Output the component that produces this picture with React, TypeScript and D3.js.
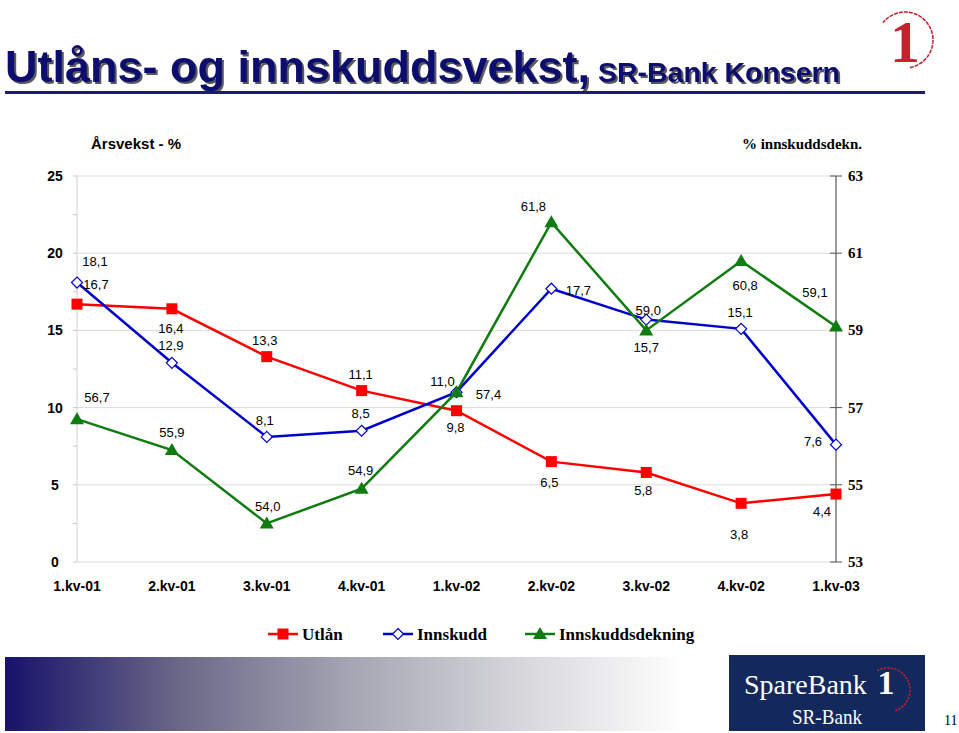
import React, { useEffect, useRef } from 'react';
import * as d3 from 'd3';

const categories = ['1.kv-01', '2.kv-01', '3.kv-01', '4.kv-01', '1.kv-02', '2.kv-02', '3.kv-02', '4.kv-02', '1.kv-03'];
const utlan = [16.7, 16.4, 13.3, 11.1, 9.8, 6.5, 5.8, 3.8, 4.4];
const innskudd = [18.1, 12.9, 8.1, 8.5, 11.0, 17.7, 15.7, 15.1, 7.6];
const dekning = [56.7, 55.9, 54.0, 54.9, 57.4, 61.8, 59.0, 60.8, 59.1];
const leftTicks = [0, 5, 10, 15, 20, 25];
const rightTicks = [53, 55, 57, 59, 61, 63];

// label offsets (dx, dy) from each point, tuned by eye
const utlanOff = [[19, -20], [-1, 19], [-2, -17], [-1, -17], [-1, 16], [-2, 20], [-3, 18], [-2, 31], [-14, 17]];
const innskuddOff = [[18, -22], [-1, -18], [-2, -17], [-1, -18], [-14, -11], [27, 1], [0, 27], [-1, -17], [-23, -4]];
const dekningOff = [[20, -22], [0, -18], [1, -17], [-1, -19], [32, 2], [-18, -16], [2, -20], [4, 24], [-21, -35]];

const fmt = (v: number) => v.toFixed(1).replace('.', ',');

export default function App() {
  const svgRef = useRef<SVGSVGElement>(null);

  useEffect(() => {
    document.body.style.margin = '0';
    if (!svgRef.current) return;
    const svg = d3.select(svgRef.current);
    svg.selectAll('*').remove();

    const left = 77, right = 836, top = 176, bottom = 562;

    const x = d3.scalePoint<string>().domain(categories).range([left, right]);
    const yL = d3.scaleLinear().domain([0, 25]).range([bottom, top]);
    const yR = d3.scaleLinear().domain([53, 63]).range([bottom, top]);

    const defs = svg.append('defs');
    const grad = defs.append('linearGradient').attr('id', 'fade').attr('x1', 0).attr('x2', 1).attr('y1', 0).attr('y2', 0);
    [[0, '#18126a'], [0.25, '#6c6a88'], [0.5, '#a9a9b6'], [0.75, '#dcdce0'], [0.95, '#ffffff']].forEach(([o, c]) => {
      grad.append('stop').attr('offset', o as number).attr('stop-color', c as string);
    });
    defs.append('filter').attr('id', 'shadow').attr('x', '-5%').attr('y', '-20%').attr('width', '110%').attr('height', '140%')
      .append('feDropShadow').attr('dx', 2).attr('dy', 2).attr('stdDeviation', 0.6)
      .attr('flood-color', '#333').attr('flood-opacity', 0.8);

    // title
    const title = svg.append('g').attr('filter', 'url(#shadow)')
      .attr('font-family', 'Liberation Sans, Arial, sans-serif').attr('font-weight', 'bold').attr('fill', '#0a0a6e');
    title.append('text').attr('x', 5).attr('y', 82)
      .attr('font-size', 44).attr('textLength', 585).attr('lengthAdjust', 'spacingAndGlyphs')
      .text('Utlåns- og innskuddsvekst,');
    title.append('text').attr('x', 598).attr('y', 82)
      .attr('font-size', 27).attr('textLength', 242).attr('lengthAdjust', 'spacingAndGlyphs')
      .text('SR-Bank Konsern');
    svg.append('rect').attr('x', 5).attr('y', 91).attr('width', 920).attr('height', 3).attr('fill', '#1b1b7a');

    // top-right logo
    const logo = svg.append('g');
    logo.append('path')
      .attr('d', d3.arc()({ innerRadius: 28, outerRadius: 28, startAngle: -0.9, endAngle: Math.PI * 0.95 } as any) as string)
      .attr('transform', 'translate(905,40)').attr('fill', 'none').attr('stroke', '#c8202e')
      .attr('stroke-width', 1.5).attr('stroke-dasharray', '3,2');
    logo.append('text').attr('x', 905).attr('y', 62).attr('text-anchor', 'middle')
      .attr('font-family', 'Liberation Serif, serif').attr('font-weight', 'bold').attr('font-size', 60)
      .attr('fill', '#c8202e').text('1');

    // axis titles
    svg.append('text').attr('x', 91).attr('y', 149)
      .attr('font-family', 'Liberation Sans, Arial, sans-serif').attr('font-weight', 'bold').attr('font-size', 15)
      .text('Årsvekst - %');
    svg.append('text').attr('x', 862).attr('y', 149).attr('text-anchor', 'end')
      .attr('font-family', 'Liberation Serif, serif').attr('font-weight', 'bold').attr('font-size', 15)
      .text('% innskuddsdekn.');

    // grid
    svg.append('g').selectAll('line').data(leftTicks).enter().append('line')
      .attr('x1', left).attr('x2', right).attr('y1', d => yL(d)).attr('y2', d => yL(d))
      .attr('stroke', '#dcdcdc').attr('stroke-width', 1);
    svg.append('line').attr('x1', left).attr('x2', left).attr('y1', top).attr('y2', bottom)
      .attr('stroke', '#d0d0d0');
    svg.append('g').selectAll('line').data(d3.range(0, 25.1, 2.5)).enter().append('line')
      .attr('x1', left - 4).attr('x2', left).attr('y1', d => yL(d)).attr('y2', d => yL(d))
      .attr('stroke', '#c8c8c8');

    svg.append('g').selectAll('text').data(leftTicks).enter().append('text')
      .attr('x', 55).attr('y', d => yL(d) + 5).attr('text-anchor', 'middle')
      .attr('font-family', 'Liberation Sans, Arial, sans-serif').attr('font-weight', 'bold').attr('font-size', 14)
      .text(d => d);

    // right axis
    svg.append('line').attr('x1', right).attr('x2', right).attr('y1', top).attr('y2', bottom)
      .attr('stroke', '#7a7a7a').attr('stroke-width', 1.5);
    svg.append('g').selectAll('line').data(rightTicks).enter().append('line')
      .attr('x1', right - 6).attr('x2', right + 6).attr('y1', d => yR(d)).attr('y2', d => yR(d))
      .attr('stroke', '#555');
    svg.append('g').selectAll('text').data(rightTicks).enter().append('text')
      .attr('x', 848).attr('y', d => yR(d) + 5)
      .attr('font-family', 'Liberation Serif, serif').attr('font-weight', 'bold').attr('font-size', 15)
      .text(d => d);

    // x labels
    svg.append('g').selectAll('text').data(categories).enter().append('text')
      .attr('x', d => x(d) as number).attr('y', 591).attr('text-anchor', 'middle')
      .attr('font-family', 'Liberation Sans, Arial, sans-serif').attr('font-weight', 'bold').attr('font-size', 14)
      .text(d => d);

    const series = [
      { vals: utlan, y: yL, color: '#ff0000', marker: 'square', off: utlanOff },
      { vals: innskudd, y: yL, color: '#0000cc', marker: 'diamond', off: innskuddOff },
      { vals: dekning, y: yR, color: '#107c10', marker: 'triangle', off: dekningOff },
    ];
    const plot = svg.append('g');
    const drawMarker = (g: any, kind: string, color: string, px: number, py: number) => {
      if (kind === 'square') {
        g.append('rect').attr('x', px - 5.5).attr('y', py - 5.5).attr('width', 11).attr('height', 11).attr('fill', color);
      } else if (kind === 'diamond') {
        g.append('path').attr('d', `M${px},${py - 5.5}L${px + 5.5},${py}L${px},${py + 5.5}L${px - 5.5},${py}Z`)
          .attr('fill', '#fff').attr('stroke', color).attr('stroke-width', 1.2);
      } else {
        g.append('path').attr('d', `M${px},${py - 7}L${px + 7},${py + 5}L${px - 7},${py + 5}Z`).attr('fill', color);
      }
    };
    series.forEach(s => {
      const line = d3.line<number>().x((_, i) => x(categories[i]) as number).y(v => s.y(v));
      plot.append('path').datum(s.vals).attr('d', line).attr('fill', 'none')
        .attr('stroke', s.color).attr('stroke-width', 2.5);
    });
    series.forEach(s => {
      s.vals.forEach((v, i) => drawMarker(plot, s.marker, s.color, x(categories[i]) as number, s.y(v)));
    });
    series.forEach(s => {
      plot.append('g').selectAll('text').data(s.vals).enter().append('text')
        .attr('x', (_, i) => (x(categories[i]) as number) + s.off[i][0])
        .attr('y', (v, i) => s.y(v) + s.off[i][1] + 5)
        .attr('text-anchor', 'middle')
        .attr('font-family', 'Liberation Sans, Arial, sans-serif').attr('font-size', 13)
        .text(v => fmt(v));
    });

    // legend
    const legend = svg.append('g').attr('font-family', 'Liberation Serif, serif').attr('font-weight', 'bold').attr('font-size', 17);
    const items = [
      { name: 'Utlån', color: '#ff0000', marker: 'square', x0: 268 },
      { name: 'Innskudd', color: '#0000cc', marker: 'diamond', x0: 383 },
      { name: 'Innskuddsdekning', color: '#107c10', marker: 'triangle', x0: 525 },
    ];
    items.forEach(it => {
      legend.append('line').attr('x1', it.x0).attr('x2', it.x0 + 30).attr('y1', 634).attr('y2', 634)
        .attr('stroke', it.color).attr('stroke-width', 2.5);
      drawMarker(legend, it.marker, it.color, it.x0 + 15, 634);
      legend.append('text').attr('x', it.x0 + 34).attr('y', 640).text(it.name);
    });

    // footer
    svg.append('rect').attr('x', 5).attr('y', 657).attr('width', 715).attr('height', 74).attr('fill', 'url(#fade)');
    const foot = svg.append('g');
    foot.append('rect').attr('x', 729).attr('y', 655).attr('width', 196).attr('height', 76).attr('fill', '#13295e');
    foot.append('path')
      .attr('d', d3.arc()({ innerRadius: 22, outerRadius: 22, startAngle: -0.5, endAngle: Math.PI * 0.9 } as any) as string)
      .attr('transform', 'translate(888,690)').attr('fill', 'none').attr('stroke', '#c8202e')
      .attr('stroke-width', 1.5).attr('stroke-dasharray', '2,1.5');
    foot.append('text').attr('x', 744).attr('y', 694)
      .attr('font-family', 'Liberation Serif, serif').attr('font-size', 28).attr('fill', '#fff')
      .text('SpareBank');
    foot.append('text').attr('x', 886).attr('y', 694).attr('text-anchor', 'middle')
      .attr('font-family', 'Liberation Serif, serif').attr('font-weight', 'bold').attr('font-size', 34).attr('fill', '#fff')
      .text('1');
    foot.append('text').attr('x', 792).attr('y', 724)
      .attr('font-family', 'Liberation Serif, serif').attr('font-size', 22).attr('fill', '#fff')
      .attr('textLength', 70).attr('lengthAdjust', 'spacingAndGlyphs').text('SR-Bank');
    svg.append('text').attr('x', 944).attr('y', 725)
      .attr('font-family', 'Liberation Serif, serif').attr('font-size', 14).text('11');
  }, []);

  return <svg ref={svgRef} width={959} height={733} style={{ display: 'block', background: '#fff' }} />;
}
